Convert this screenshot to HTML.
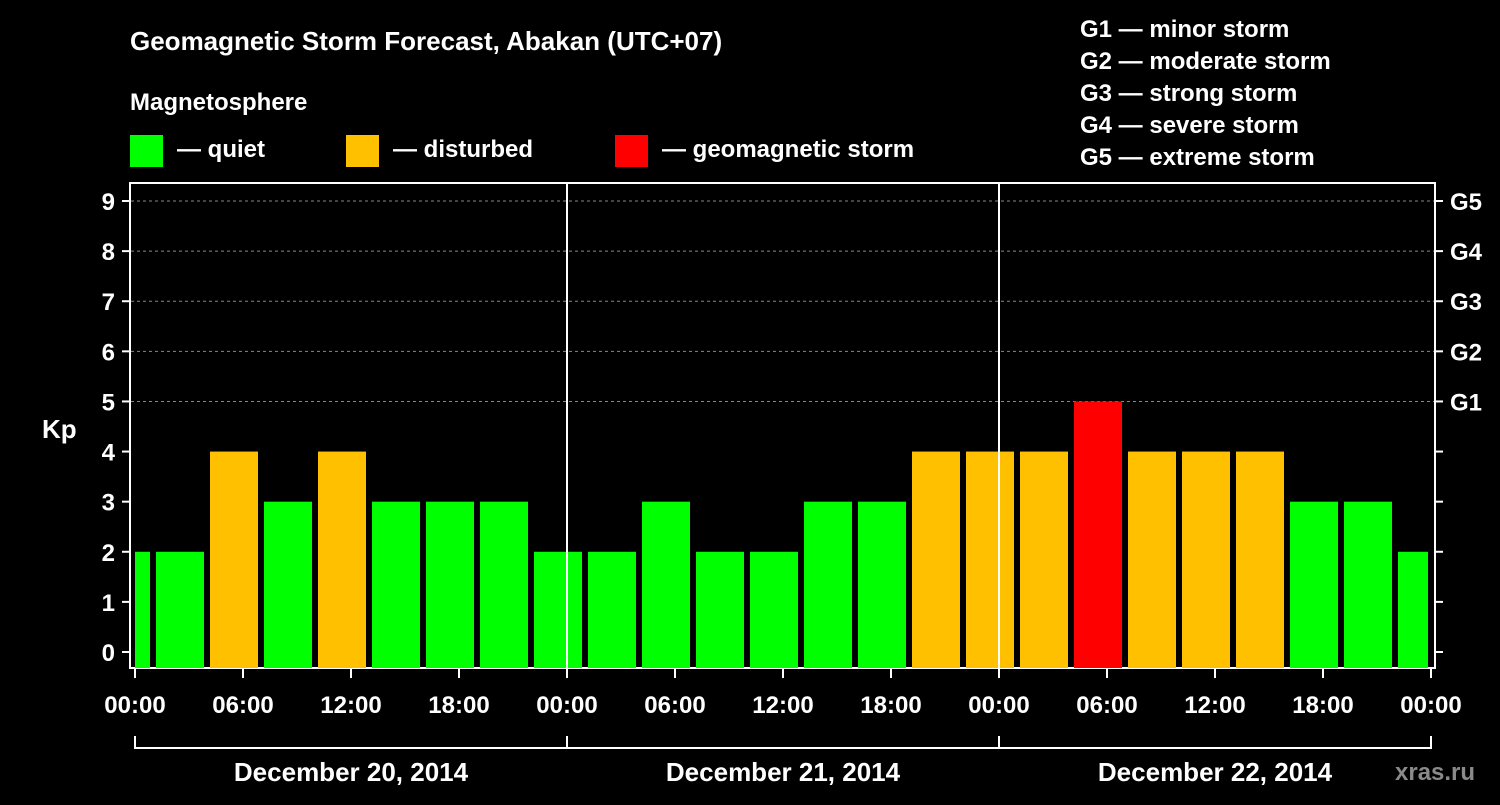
<!DOCTYPE html>
<html><head><meta charset="utf-8"><style>
body{margin:0;background:#000;width:1500px;height:800px;overflow:hidden}
svg text{font-family:"Liberation Sans",Arial,sans-serif;font-weight:bold;fill:#fff}
</style></head><body>
<svg id="c" width="1500" height="800">
<text x="130" y="50" font-size="26">Geomagnetic Storm Forecast, Abakan (UTC+07)</text>
<text x="130" y="110" font-size="24">Magnetosphere</text>
<g><rect x="130" y="135" width="33" height="32" fill="#00ff00"/><text x="177" y="157" font-size="24">— quiet</text></g>
<g><rect x="346" y="135" width="33" height="32" fill="#ffc000"/><text x="393" y="157" font-size="24">— disturbed</text></g>
<g><rect x="615" y="135" width="33" height="32" fill="#ff0000"/><text x="662" y="157" font-size="24">— geomagnetic storm</text></g>
<g font-size="24">
<text x="1080" y="37">G1 — minor storm</text>
<text x="1080" y="69">G2 — moderate storm</text>
<text x="1080" y="101">G3 — strong storm</text>
<text x="1080" y="133">G4 — severe storm</text>
<text x="1080" y="165">G5 — extreme storm</text>
</g>
<text x="42" y="438" font-size="26">Kp</text>
<text x="1395" y="780" font-size="24" fill="#888" style="fill:#8a8a8a">xras.ru</text>
<g id="plot"></g>
</svg>
<script>
const kpValues=[2,2,4,3,4,3,3,3,2,2,3,2,2,3,3,4,4,4,5,4,4,4,3,3,2];
const startHours=[-2,1,4,7,10,13,16,19,22,25,28,31,34,37,40,43,46,49,52,55,58,61,64,67,70];
const dayLabels=["December 20, 2014","December 21, 2014","December 22, 2014"];
const timeLabels=["00:00","06:00","12:00","18:00"];
const gLabels=["G1","G2","G3","G4","G5"];
const NS="http://www.w3.org/2000/svg";
const g=document.getElementById('plot');
const X0=135,PXH=18,TOTAL=72;
const xs=h=>X0+h*PXH;
const ys=v=>652-v*50.11;
function mk(t,a,p){const e=document.createElementNS(NS,t);for(const k in a)e.setAttribute(k,a[k]);(p||g).appendChild(e);return e;}
// frame
let e=mk('rect',{x:130,y:183,width:1305,height:485,fill:'none',stroke:'#fff','stroke-width':2});


// grid
for(let v=5;v<=9;v++){e=mk('line',{x1:131,x2:1434,y1:ys(v),y2:ys(v),stroke:'#888','stroke-dasharray':'3,3','stroke-width':1});

}
// bars
kpValues.forEach((v,i)=>{
 const s=startHours[i];
 let x1=xs(s)+3,x2=xs(s+3)-3;
 x1=Math.max(x1,X0);x2=Math.min(x2,xs(TOTAL)-3);
 const col=v>=5?'#ff0000':v>=4?'#ffc000':'#00ff00';
 e=mk('rect',{x:x1,y:ys(v),width:x2-x1,height:668-ys(v),fill:col});
 
 
});
// day separators
for(let d=1;d<3;d++){e=mk('line',{x1:xs(d*24),x2:xs(d*24),y1:183,y2:668,stroke:'#fff','stroke-width':2});

}
// y ticks
for(let v=0;v<=9;v++){
 mk('line',{x1:122,x2:130,y1:ys(v),y2:ys(v),stroke:'#fff','stroke-width':2});
 mk('line',{x1:1435,x2:1443,y1:ys(v),y2:ys(v),stroke:'#fff','stroke-width':2});
 e=mk('text',{x:115,y:ys(v)+9,'font-size':24,'text-anchor':'end'});e.textContent=v;
 
 
}
gLabels.forEach((l,i)=>{e=mk('text',{x:1450,y:ys(i+5)+9,'font-size':24});e.textContent=l;
 
 });
// x ticks
for(let h=0;h<=TOTAL;h+=6){
 mk('line',{x1:xs(h),x2:xs(h),y1:668,y2:678,stroke:'#fff','stroke-width':2});
 e=mk('text',{x:xs(h),y:713,'font-size':24,'text-anchor':'middle'});e.textContent=timeLabels[(h/6)%4];
 
 
}
// date bracket
mk('line',{x1:xs(0),x2:xs(TOTAL),y1:748,y2:748,stroke:'#fff','stroke-width':2});
for(let d=0;d<=3;d++)mk('line',{x1:xs(d*24),x2:xs(d*24),y1:736,y2:749,stroke:'#fff','stroke-width':2});
dayLabels.forEach((l,d)=>{e=mk('text',{x:xs(d*24+12),y:781,'font-size':26,'text-anchor':'middle'});e.textContent=l;
 
 });
</script>
</body></html>
